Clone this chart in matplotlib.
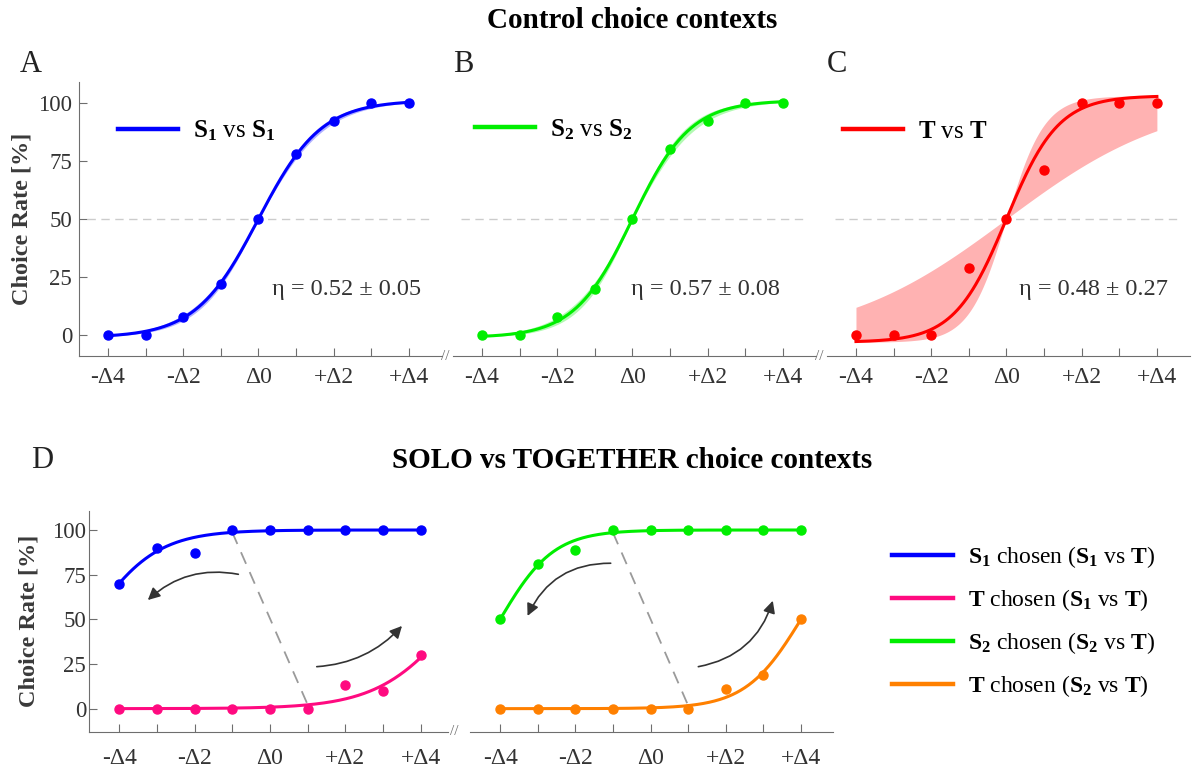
import numpy as np
import matplotlib
matplotlib.use("Agg")
import matplotlib.pyplot as plt
from matplotlib.lines import Line2D

plt.rcParams['font.family'] = ['Liberation Serif', 'DejaVu Serif']
plt.rcParams['mathtext.fontset'] = 'custom'
plt.rcParams['mathtext.rm'] = 'Liberation Serif'
plt.rcParams['mathtext.bf'] = 'Liberation Serif:bold'
plt.rcParams['mathtext.it'] = 'Liberation Serif:italic'

# value differences (Delta levels)
levels = [-4, -3, -2, -1, 0, 1, 2, 3, 4]
tick_labels = ['-Δ4', '', '-Δ2', '', 'Δ0', '', '+Δ2', '', '+Δ4']

# control contexts, choice rate [%]
s1_vs_s1 = [0, 0, 8, 22, 50, 78, 92, 100, 100]
s2_vs_s2 = [0, 0, 8, 20, 50, 80, 92, 100, 100]
t_vs_t = [0, 0, 0, 29, 50, 71, 100, 100, 100]
eta_labels = ['η = 0.52 ± 0.05', 'η = 0.57 ± 0.08', 'η = 0.48 ± 0.27']

# solo vs together contexts, choice rate [%]
s1_chosen_s1t = [70, 90, 87, 100, 100, 100, 100, 100, 100]
t_chosen_s1t = [0, 0, 0, 0, 0, 0, 13, 10, 30]
s2_chosen_s2t = [50, 81, 89, 100, 100, 100, 100, 100, 100]
t_chosen_s2t = [0, 0, 0, 0, 0, 0, 11, 19, 50]

# logistic fit parameters: slope, midpoint, lower, upper
fit_ctrl = [(1.2, 0, -1, 101), (1.3, 0, -1, 101), (1.45, 0, -3, 103)]
band_slopes = [(1.12, 1.28), (1.18, 1.42), (0.45, 2.0)]
fit_solo = [(1.15, -4.74, 0, 100), (0.97, 4.94, 0, 100),
            (1.4, -4.0, 0, 100), (1.35, 4.0, 0, 100)]


def logistic(x, k, x0, lo, hi):
    return lo + (hi - lo) / (1 + np.exp(-k * (x - x0)))


W, H = 1192, 769
fig = plt.figure(figsize=(W / 100, H / 100), dpi=100)

grey = '#6e6e6e'
txt = '#333333'


def style(ax, yaxis, xlim, ylim, pad, ypad, lpad):
    ax.set_xlim(*xlim)
    ax.set_ylim(*ylim)
    for s in ['top', 'right']:
        ax.spines[s].set_visible(False)
    ax.spines['bottom'].set_color(grey)
    ax.spines['left'].set_color(grey)
    ax.set_xticks(levels)
    ax.set_xticklabels(tick_labels)
    ax.tick_params(axis='x', direction='in', length=6, color=grey,
                   labelsize=17, labelcolor=txt, pad=pad)
    if yaxis:
        ax.set_yticks([0, 25, 50, 75, 100])
        ax.tick_params(axis='y', direction='in', length=6, color=grey,
                       labelsize=16.5, labelcolor=txt, pad=ypad)
        ax.set_ylabel('Choice Rate [%]', fontsize=17.5, fontweight='bold',
                      color='#3a3a3a', labelpad=lpad)
    else:
        ax.spines['left'].set_visible(False)
        ax.set_yticks([])


xs = np.linspace(-4, 4, 300)

# ---- top row
top_left = [79, 453, 827]
top_data = [s1_vs_s1, s2_vs_s2, t_vs_t]
top_colors = ['#0000ff', '#00ee00', '#ff0000']
top_labels = [r'$\mathbf{S}_\mathbf{1}$ vs $\mathbf{S}_\mathbf{1}$',
              r'$\mathbf{S}_\mathbf{2}$ vs $\mathbf{S}_\mathbf{2}$',
              r'$\mathbf{T}$ vs $\mathbf{T}$']
leg_anchor = [(0.107, 0.822), (0.061, 0.827), (0.043, 0.819)]
eta_x = [4.33, 3.91, 4.30]
letters = ['A', 'B', 'C']

for i in range(3):
    ax = fig.add_axes([top_left[i] / W, 1 - 356 / H, 363 / W, 274 / H])
    style(ax, i == 0, (-4.77, 4.88), (-8.9, 108.9), 8, 5, 4)
    k, x0, lo, hi = fit_ctrl[i]
    ka, kb = band_slopes[i]
    ca = logistic(xs, ka, x0, lo, hi)
    cb = logistic(xs, kb, x0, lo, hi)
    ax.hlines(50, -4.55, 4.55, colors='#cccccc', linestyles=(0, (6, 4)), lw=1)
    ax.fill_between(xs, np.minimum(ca, cb), np.maximum(ca, cb),
                    color=top_colors[i], alpha=0.3, lw=0)
    ax.plot(xs, logistic(xs, k, x0, lo, hi), color=top_colors[i], lw=2.2)
    ax.plot(levels, top_data[i], 'o', color=top_colors[i], ms=6.5)
    ax.text(eta_x[i], 19.5, eta_labels[i], ha='right', va='center',
            fontsize=17.5, color=txt)
    h = Line2D([], [], color=top_colors[i], lw=3.2)
    ax.legend([h], [top_labels[i]], loc='center left',
              bbox_to_anchor=leg_anchor[i], frameon=False, fontsize=18,
              handlelength=2.4, handletextpad=0.6, borderpad=0,
              borderaxespad=0)
    if i > 0:
        ax.text(-0.022, 0, '//', transform=ax.transAxes, ha='center',
                va='center', fontsize=11, color=grey)

# ---- bottom row
bottom = [
    (89, 359, (-4.8, 4.72), s1_chosen_s1t, t_chosen_s1t,
     '#0000ff', '#ff0a80', fit_solo[0], fit_solo[1]),
    (470, 363, (-4.8, 4.85), s2_chosen_s2t, t_chosen_s2t,
     '#00ee00', '#ff8000', fit_solo[2], fit_solo[3]),
]
arrows = [
    [((-0.84, 75.2), (-3.24, 60.8), 0.25), ((1.24, 23.5), (3.5, 46.3), 0.2)],
    [((-1.06, 81.4), (-3.27, 51.9), 0.32), ((1.27, 23.5), (3.25, 60.4), 0.3)],
]
for j, (left, width, xl, up, low, cu, cl, fu, fl) in enumerate(bottom):
    ax = fig.add_axes([left / W, 1 - 731.7 / H, width / W, 221 / H])
    style(ax, j == 0, xl, (-12.9, 110.8), 12, 2, 9)
    yu = logistic(xs, *fu)
    yl = logistic(xs, *fl)
    ax.plot([-1, 1], [logistic(-1, *fu), logistic(1, *fl)], color='#9a9a9a',
            lw=1.3, ls=(0, (7, 5)))
    ax.plot(xs, yu, color=cu, lw=2.2)
    ax.plot(xs, yl, color=cl, lw=2.2)
    ax.plot(levels, up, 'o', color=cu, ms=6.5)
    ax.plot(levels, low, 'o', color=cl, ms=6.5)
    for start, end, rad in arrows[j]:
        ax.annotate('', xy=end, xytext=start,
                    arrowprops=dict(arrowstyle='-|>', color='#333333', lw=1.2,
                                    mutation_scale=18, shrinkA=0, shrinkB=0,
                                    connectionstyle='arc3,rad=%s' % rad))
    if j > 0:
        ax.text(-0.044, 0, '//', transform=ax.transAxes, ha='center',
                va='center', fontsize=11, color=grey)

# legend for bottom row
leg_colors = ['#0000ff', '#ff0a80', '#00ee00', '#ff8000']
leg_labels = [r'$\mathbf{S}_\mathbf{1}$ chosen ($\mathbf{S}_\mathbf{1}$ vs $\mathbf{T}$)',
              r'$\mathbf{T}$ chosen ($\mathbf{S}_\mathbf{1}$ vs $\mathbf{T}$)',
              r'$\mathbf{S}_\mathbf{2}$ chosen ($\mathbf{S}_\mathbf{2}$ vs $\mathbf{T}$)',
              r'$\mathbf{T}$ chosen ($\mathbf{S}_\mathbf{2}$ vs $\mathbf{T}$)']
handles = [Line2D([], [], color=c, lw=3.2) for c in leg_colors]
fig.legend(handles, leg_labels, loc='center left',
           bbox_to_anchor=(892 / W, 1 - 621.5 / H), frameon=False,
           fontsize=17, handlelength=2.6, handletextpad=0.6,
           labelspacing=0.72, borderpad=0, borderaxespad=0)

# titles and panel letters
fig.text(632 / W, 1 - 21 / H, 'Control choice contexts', ha='center',
         va='center', fontsize=21, fontweight='bold')
fig.text(632 / W, 1 - 460 / H, 'SOLO vs TOGETHER choice contexts',
         ha='center', va='center', fontsize=21, fontweight='bold')
for lab, (px, py) in zip(letters + ['D'],
                         [(31, 65), (463, 65), (836.5, 65), (42.5, 460)]):
    fig.text(px / W, 1 - py / H, lab, ha='center', va='center', fontsize=22,
             color='#222222')

fig.savefig('out.png', dpi=100)
